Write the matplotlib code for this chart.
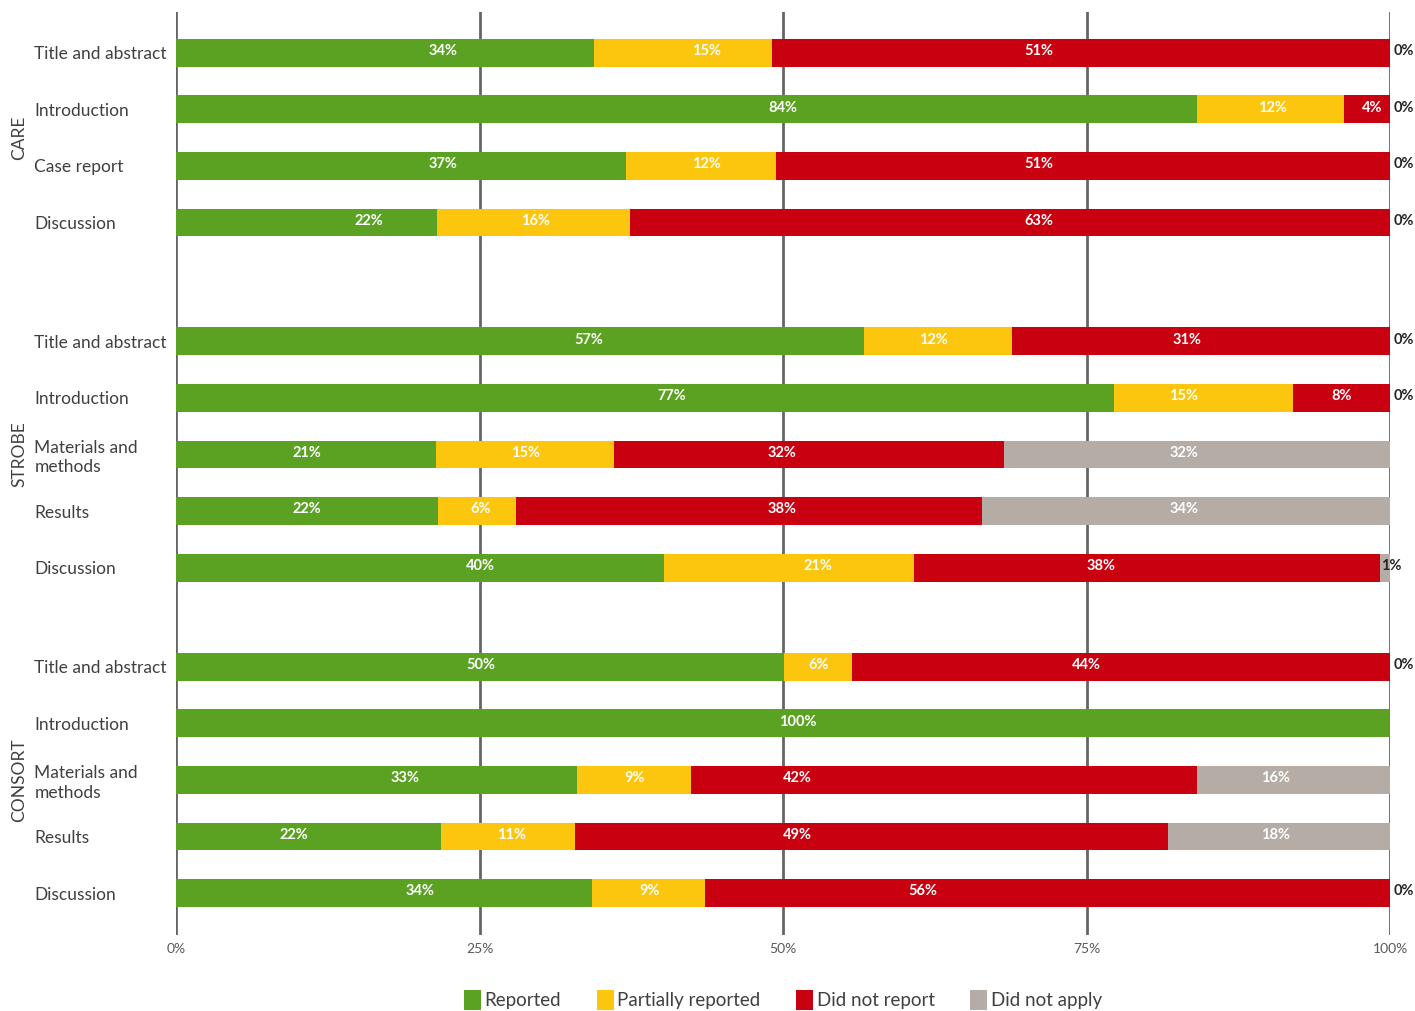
import numpy as np
import matplotlib
matplotlib.use("Agg")
import matplotlib.pyplot as plt
from matplotlib.patches import Patch

plt.rcParams['font.family'] = ['Lato', 'DejaVu Sans']

groups = ["CARE", "STROBE", "CONSORT"]
group_items = [
    ["Title and abstract", "Introduction", "Case report", "Discussion"],
    ["Title and abstract", "Introduction", "Materials and\nmethods", "Results", "Discussion"],
    ["Title and abstract", "Introduction", "Materials and\nmethods", "Results", "Discussion"],
]
group_offsets = [0.0, 5.1, 10.85]

series = ["Reported", "Partially reported", "Did not report", "Did not apply"]
colors = ["#5BA223", "#FCC60F", "#C8000F", "#B5ACA5"]

# segment sizes (%)
reported = [34.4, 84.1, 37.1, 21.5,
            56.7, 77.3, 21.4, 21.6, 40.2,
            50.1, 100.0, 33.0, 21.8, 34.3]
partial = [14.7, 12.1, 12.3, 15.9,
           12.2, 14.7, 14.7, 6.4, 20.6,
           5.6, 0.0, 9.4, 11.1, 9.3]
not_report = [50.9, 3.8, 50.6, 62.6,
              31.1, 8.0, 32.1, 38.4, 38.4,
              44.3, 0.0, 41.7, 48.8, 56.4]
not_apply = [0.0, 0.0, 0.0, 0.0,
             0.0, 0.0, 31.8, 33.6, 0.8,
             0.0, np.nan, 15.9, 18.3, 0.0]

# where the data labels sit along the axis (%)
label_reported = [22.0, 50.0, 22.0, 15.9,
                  34.0, 40.8, 10.8, 10.8, 25.1,
                  25.1, 51.2, 18.9, 9.7, 20.1]
label_partial = [43.7, 90.3, 43.7, 29.6,
                 62.4, 83.0, 28.8, 25.1, 52.9,
                 52.9, np.nan, 37.8, 27.6, 39.0]
label_not_report = [71.1, 98.5, 71.1, 71.1,
                    83.3, 96.0, 49.9, 49.9, 76.2,
                    75.0, np.nan, 51.2, 51.2, 61.5]
label_not_apply = [np.nan, np.nan, np.nan, np.nan,
                   np.nan, np.nan, 83.0, 83.0, 100.1,
                   np.nan, np.nan, 90.6, 90.6, np.nan]

fig = plt.figure(figsize=(14.15, 10.11), dpi=100)
ax = fig.add_axes([176/1415, 1-935/1011, (1390-176)/1415, (935-12)/1011])

labels = []
pos = []
grp_centers = []
for off, items in zip(group_offsets, group_items):
    p = [off + i for i in range(len(items))]
    pos += p
    labels += items
    grp_centers.append(np.mean(p))
pos = np.array(pos)

data = [np.array(reported), np.array(partial), np.array(not_report), np.array(not_apply)]
lpos = [np.array(label_reported), np.array(label_partial),
        np.array(label_not_report), np.array(label_not_apply)]
bh = 0.49
left = np.zeros(len(pos))
for k, (vals, col, lp) in enumerate(zip(data, colors, lpos)):
    v = np.nan_to_num(vals) / 100.0
    ax.barh(pos, v, left=left, height=bh, color=col, zorder=3, linewidth=0)
    for i, raw in enumerate(vals):
        if np.isnan(raw):
            continue
        txt = f"{int(round(raw))}%"
        if raw >= 2:
            ax.text(lp[i] / 100, pos[i] - 0.03, txt, ha='center', va='center',
                    color='white', fontsize=10.5, fontweight='bold', zorder=4)
        elif raw > 0:
            ax.text(lp[i] / 100, pos[i] - 0.03, txt, ha='center', va='center',
                    color='#262626', fontsize=10.5, fontweight='bold', zorder=4)
        elif k == 3:
            ax.text(1.003, pos[i] - 0.03, txt, ha='left', va='center',
                    color='#262626', fontsize=10.5, fontweight='bold', zorder=4)
    left = left + v

for x in [0, 0.25, 0.5, 0.75, 1.0]:
    ax.axvline(x, color='#666666', lw=2, zorder=1)

ax.set_xlim(0, 1)
ax.set_ylim(pos[-1] + 0.74, -0.72)
ax.set_xticks([0, 0.25, 0.5, 0.75, 1.0])
ax.set_xticklabels(["0%", "25%", "50%", "75%", "100%"], color='#595959', fontsize=10)
ax.tick_params(axis='x', length=0, pad=6)
ax.set_yticks(pos)
ax.set_yticklabels(labels, fontsize=12.5, color='#404040', linespacing=1.25)
ax.tick_params(axis='y', length=0, pad=102)
for t in ax.get_yticklabels():
    t.set_horizontalalignment('left')
for s in ax.spines.values():
    s.set_visible(False)

# group labels
for g, c in zip(groups, grp_centers):
    ydisp = ax.transData.transform((0, c))[1]
    yfig = fig.transFigure.inverted().transform((0, ydisp))[1]
    fig.text(19/1415, yfig, g, rotation=90, ha='center', va='center',
             fontsize=12.5, color='#404040')

handles = [Patch(facecolor=c, edgecolor='none') for c in colors]
leg = fig.legend(handles, series, loc='center', bbox_to_anchor=(783/1415, 1-1000/1011),
                 ncol=4, frameon=False, fontsize=13.5, handlelength=0.9, handleheight=1.2,
                 handletextpad=0.2, columnspacing=1.9)
for t in leg.get_texts():
    t.set_color('#404040')

fig.savefig("out.png", dpi=100)
